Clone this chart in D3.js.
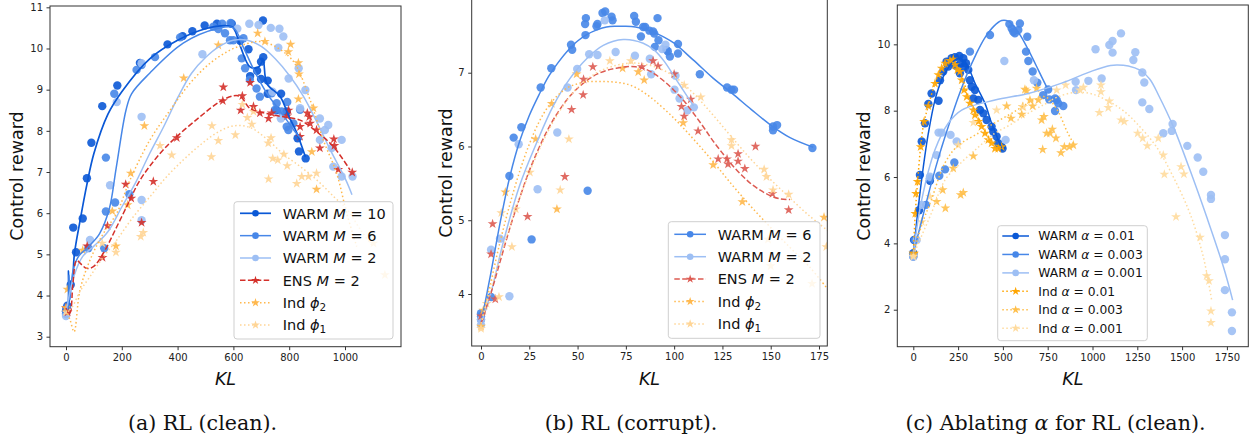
<!DOCTYPE html>
<html><head><meta charset="utf-8">
<script src="https://cdn.jsdelivr.net/npm/d3@7"></script>
<style>
body{margin:0;background:#fff;}
svg{display:block;}
</style></head><body>
<svg id="c" width="1255" height="443" font-family="DejaVu Sans, sans-serif"></svg>
<script>
// ===================== DATA =====================
// ---- Panel (a): RL (clean) ----
const aXTicks = [0,200,400,600,800,1000];
const aYTicks = [3,4,5,6,7,8,9,10,11];
const aWarm10Pts = [[0,3.62],[2,3.7],[5,3.75],[17,4.26],[26,5.65],[36,5.05],[60,5.87],[75,6.85],[91,7.71],[130,8.6],[184,9.1],[265,9.65],[364,10.1],[418,10.3],[453,10.42],[497,10.56],[541,10.6],[594,10.6],[624,10.19],[654,9.98],[660,9.33],[685,9.46],[699,9.68],[707,9.79],[706,10.68],[699,9.26],[723,9.22],[723,8.9],[771,8.9],[754,8.5],[791,8.47],[830,7.82],[835,7.5],[859,7.33]];
const aWarm10Line = [[0,3.65],[6,3.7],[9,4.6],[12,3.85],[17,4.35],[22,4.2],[30,5.0],[50,5.8],[75,6.7],[100,7.45],[150,8.4],[200,8.95],[300,9.75],[400,10.2],[500,10.48],[580,10.55],[600,10.5],[625,10.05],[660,9.55],[690,9.55],[706,9.7],[720,9.15],[768,8.83],[797,8.38],[828,7.94],[858,7.37]];
const aWarm6Pts = [[0,3.55],[3,3.7],[80,5.15],[137,5.15],[143,7.35],[143,6.04],[176,6.26],[173,8.9],[227,6.46],[253,9.48],[271,9.6],[319,9.79],[409,10.27],[528,10.53],[546,10.47],[570,10.37],[588,10.2],[600,10.2],[636,10.25],[630,9.76],[642,9.52],[659,9.24],[683,9.03],[695,8.83],[737,8.91],[749,8.51],[755,8.67],[773,8.47],[791,8.1],[797,8.02],[815,8.18],[839,8.51],[793,8.7],[560,10.6],[590,10.62]];
const aWarm6Line = [[0,3.62],[8,3.75],[11,4.5],[14,3.9],[25,4.6],[45,4.95],[75,5.15],[120,5.5],[155,6.1],[180,7.1],[215,8.5],[235,8.9],[300,9.4],[420,10.13],[540,10.48],[600,10.5],[635,10.04],[677,9.43],[720,8.91],[755,8.59],[791,8.26],[821,7.98],[845,7.8]];
const aWarm2Pts = [[0,3.5],[86,5.35],[158,6.68],[182,8.7],[271,8.34],[271,6.32],[271,5.83],[271,9.64],[489,9.86],[614,10.48],[657,10.6],[690,10.57],[734,10.5],[765,10.48],[779,10.29],[761,10.02],[798,9.27],[834,9.52],[858,8.99],[839,8.55],[910,8.3],[928,8.02],[940,8.14],[910,7.78],[952,7.58],[958,7.13],[988,7.78],[988,6.89],[1027,6.89],[740,8.95],[770,8.3]];
const aWarm2Line = [[0,3.6],[30,4.5],[60,4.95],[100,5.2],[150,5.55],[200,6.15],[250,6.75],[300,7.45],[350,8.1],[400,8.8],[450,9.4],[500,9.78],[550,10.05],[600,10.2],[650,10.2],[700,10.05],[750,9.75],[800,9.35],[850,8.85],[900,8.2],[950,7.5],[1000,6.85],[1025,6.45]];
const aEnsPts = [[0,3.7],[6,3.6],[76,5.2],[131,4.92],[149,5.69],[214,6.7],[234,6.36],[271,5.77],[313,6.77],[397,7.83],[564,9.06],[562,8.73],[632,8.85],[626,8.5],[660,9.17],[672,8.59],[695,8.43],[726,8.3],[737,8.43],[798,8.5],[793,8.36],[839,8.1],[839,7.86],[865,8.43],[872,8.34],[875,8.18],[898,8.02],[910,7.58],[960,7.8],[962,7.64],[976,7.06],[1026,6.99]];
const aEnsLine = [[0,3.7],[10,3.55],[16,3.6],[25,4.3],[38,4.85],[56,4.75],[74,4.66],[98,4.7],[134,5.03],[182,5.67],[229,6.32],[265,6.8],[337,7.45],[397,7.86],[480,8.34],[552,8.71],[600,8.85],[626,8.83],[659,8.55],[719,8.42],[779,8.34],[839,8.26],[898,7.98],[958,7.62],[1018,7.05]];
const aPhi2Pts = [[0,3.7],[5,4.15],[60,5.1],[166,6.05],[179,5.2],[221,6.2],[232,6.97],[281,8.12],[422,9.28],[546,10.08],[687,10.37],[713,10.17],[797,9.92],[805,10.1],[833,9.65],[835,9.38],[833,8.77],[887,8.55],[881,7.49],[898,6.58]];
const aPhi2Line = [[0,3.65],[15,3.4],[29,3.12],[50,4.13],[86,4.86],[134,5.51],[182,6.0],[229,6.8],[301,7.78],[373,8.5],[444,9.15],[516,9.64],[588,9.96],[650,10.12],[696,10.17],[750,10.05],[800,9.8],[827,9.56],[875,8.75],[922,7.78],[970,6.97],[1006,6.0],[1042,5.19]];
const aPhi1Pts = [[0,3.6],[130,5.27],[179,5.05],[268,5.43],[277,5.53],[337,7.64],[379,7.41],[521,7.37],[523,8.12],[546,7.76],[607,7.9],[632,8.64],[650,8.32],[666,8.16],[672,8.47],[725,7.7],[735,7.83],[741,7.33],[759,7.29],[781,7.43],[726,6.83],[793,7.15],[827,6.72],[845,6.89],[869,6.89],[898,6.97],[1102,5.27],[1143,4.5]];
const aPhi1Line = [[0,3.6],[20,3.7],[50,4.1],[86,4.46],[130,4.9],[182,5.35],[240,5.9],[301,6.4],[360,6.88],[420,7.29],[480,7.65],[540,7.95],[600,8.12],[660,8.08],[720,7.8],[780,7.43],[840,7.13],[900,6.8],[960,6.4],[1006,6.1],[1060,5.55],[1100,5.19]];

// ---- Panel (b): RL (corrupt) ----
const bXTicks = [0,25,50,75,100,125,150,175];
const bYTicks = [4,5,6,7];
const bWarm6Pts = [[0,3.74],[0,3.65],[0,3.7],[5.2,3.96],[14.7,5.6],[16.9,6.12],[20.9,6.26],[26.2,4.74],[30.9,6.8],[36.4,7.06],[46.6,7.38],[47.2,7.31],[54.1,7.51],[53.9,7.66],[54.3,7.74],[55.2,5.4],[59.8,7.63],[60.3,7.66],[62.9,7.81],[64.3,7.83],[67.6,7.76],[68.1,7.71],[79.3,7.77],[80.2,7.69],[82.8,7.49],[84,7.62],[85,7.62],[87.2,7.57],[89.1,7.56],[89.7,7.53],[90,7.35],[91.4,7.74],[91.9,7.44],[96,7.31],[96.7,7.29],[97.8,7.22],[102,7.39],[102,7.26],[113.3,6.98],[127.4,6.8],[129.7,6.77],[131,6.77],[151.2,6.27],[153.3,6.29],[151.2,6.22],[171.6,5.98]];
const bWarm6Line = [[0,3.6],[5,4.27],[10,4.98],[15,5.6],[20,6.07],[25,6.42],[30,6.7],[35,6.95],[40,7.14],[45,7.3],[50,7.43],[55,7.52],[60,7.58],[65,7.62],[70,7.63],[75,7.63],[80,7.62],[85,7.59],[90,7.54],[95,7.48],[100,7.4],[110,7.17],[120,6.93],[130,6.72],[140,6.5],[150,6.29],[160,6.12],[172,5.99]];
const bWarm2Pts = [[0,3.65],[0,3.58],[5.2,4.6],[9.8,4.75],[14.7,3.97],[19.5,6.03],[29.3,5.42],[39.5,6.19],[44.8,6.8],[49.8,7.05],[56,7.25],[60.3,7.24],[64.1,7.71],[69.7,7.28],[79.7,7.23],[87.4,7.19],[88.1,6.98],[93.8,7.32],[95.5,7.38],[100.7,6.96],[100.2,6.77],[102.8,6.65],[106.9,6.49],[110.2,6.53]];
const bWarm2Line = [[0,3.6],[5,4.0],[11.5,4.7],[20,5.47],[28.8,6.05],[37.4,6.55],[46,6.92],[54.7,7.19],[63.3,7.37],[73.6,7.45],[84,7.4],[90,7.3],[95,7.15],[100,6.95],[105,6.75],[110,6.55]];
const bEnsPts = [[0,3.7],[5.2,4.54],[6,4.95],[7.4,3.93],[24.1,5.05],[43.4,5.59],[46.9,6.5],[52.9,6.7],[53.1,6.91],[57.9,7.08],[83.3,7.08],[89.1,7.16],[91.7,7.09],[100,6.98],[103.8,6.54],[105.2,6.41],[108.6,6.64],[112.4,6.21],[122.8,5.83],[127.4,5.83],[127.9,5.76],[133.1,5.9],[133.1,5.8],[136.6,5.7],[142.1,6.0],[150.9,5.36],[159.3,5.14]];
const bEnsLine = [[0,3.6],[5,4.0],[10,4.45],[15,4.9],[20,5.3],[25,5.67],[30,5.98],[35,6.25],[40,6.47],[45,6.65],[50,6.79],[55,6.9],[60,6.98],[65,7.03],[70,7.06],[75,7.08],[80,7.08],[85,7.05],[90,6.98],[95,6.88],[100,6.76],[105,6.62],[110,6.45],[115,6.27],[120,6.08],[125,5.91],[130,5.75],[135,5.61],[140,5.49],[145,5.4],[150,5.33],[155,5.29],[160,5.28]];
const bPhi2Pts = [[0,3.56],[1.2,3.78],[12.6,5.38],[28.3,6.1],[36.6,6.58],[39.3,5.15],[49.5,6.98],[73.3,7.06],[81.4,7.01],[84.5,6.9],[104.7,6.32],[120.2,5.75],[135.3,5.25],[177.6,5.04]];
const bPhi2Line = [[0,3.6],[5,4.15],[10,4.72],[15,5.22],[20,5.66],[25,6.03],[30,6.33],[35,6.55],[40,6.7],[45,6.8],[50,6.85],[55,6.88],[60,6.88],[65,6.88],[70,6.87],[75,6.85],[80,6.8],[85,6.72],[90,6.62],[100,6.38],[110,6.1],[120,5.8],[130,5.48],[140,5.18],[150,4.9],[160,4.63],[170,4.37],[180,4.05]];
const bPhi1Pts = [[0,3.53],[2.9,3.87],[9.3,3.96],[10.5,5.1],[18,5.15],[16,4.64],[25.3,5.65],[41,5.41],[45.5,6.1],[66.7,7.16],[77.6,7.16],[105.2,6.83],[113.8,6.67],[129.7,6.09],[129.7,6.01],[146.6,5.69],[147.8,5.59],[151.2,5.41],[159.3,5.35],[178.8,4.64],[171.4,4.14],[150,4.38],[148.6,4.74]];
const bPhi1Line = [[0,3.6],[10,4.5],[20,5.3],[30,5.95],[40,6.45],[50,6.8],[60,7.0],[70,7.1],[80,7.13],[90,7.08],[100,6.95],[110,6.72],[120,6.43],[130,6.12],[140,5.82],[150,5.55],[160,5.3],[170,5.06],[180,4.85]];

// ---- Panel (c): Ablating alpha ----
const cXTicks = [0,250,500,750,1000,1250,1500,1750];
const cYTicks = [2,4,6,8,10];
const cW01Pts = [[0,3.6],[0,3.7],[4,4.1],[32,5.0],[37,6.06],[47,7.07],[65,7.62],[84,8.2],[93,5.89],[102,8.52],[141,8.3],[149,8.92],[167,9.18],[186,9.48],[195,9.33],[214,9.58],[232,9.61],[238,9.35],[257,9.65],[260,9.13],[264,9.43],[279,9.58],[283,9.33],[294,9.43],[307,9.23],[316,8.92],[326,8.72],[335,8.37],[344,8.62],[363,8.32],[372,8.02],[391,7.92],[409,7.72],[437,7.52],[446,7.37],[465,7.22],[474,7.02],[493,6.91],[498,6.86]];
const cW01Line = [[0,3.7],[28,5.1],[56,6.31],[84,7.32],[121,8.32],[158,8.92],[214,9.43],[251,9.58],[288,9.48],[320,9.15],[344,8.83],[400,8.22],[437,7.62],[474,7.12],[493,6.87]];
const cW003Pts = [[0,3.65],[9,4.1],[71,5.16],[93,5.96],[145,6.04],[177,6.23],[229,6.44],[316,9.78],[428,10.28],[536,10.61],[549,10.48],[558,10.38],[567,10.33],[586,10.43],[595,10.63],[636,10.23],[629,9.78],[642,9.5],[666,9.18],[692,8.84],[725,8.47],[753,8.64],[759,8.34],[791,8.37],[791,7.99],[809,8.22],[837,8.14],[800,8.32]];
const cW003Line = [[0,3.7],[50,4.75],[100,5.8],[150,6.75],[200,7.6],[250,8.4],[300,9.1],[350,9.7],[400,10.2],[450,10.55],[493,10.72],[530,10.7],[560,10.55],[600,10.25],[650,9.75],[700,9.2],[750,8.65]];
const cW001Pts = [[0,3.6],[19,4.1],[47,5.16],[93,6.01],[130,6.66],[141,7.34],[158,7.34],[208,7.27],[242,7.07],[515,7.12],[508,9.5],[673,8.92],[908,8.62],[906,8.87],[977,8.9],[1051,8.97],[1017,9.85],[1094,9.98],[1112,10.1],[1112,9.75],[1159,10.33],[1228,9.53],[1239,9.76],[1278,9.15],[1289,8.85],[1278,8.25],[1317,8.05],[1395,7.32],[1442,7.39],[1447,7.6],[1529,6.94],[1587,6.59],[1618,6.16],[1661,5.46],[1661,5.34],[1739,4.25],[1739,3.52],[1739,2.59],[1778,1.92],[1778,1.36]];
const cW001Line = [[0,3.7],[47,5.31],[121,6.82],[195,7.62],[270,8.02],[456,8.32],[642,8.52],[828,8.83],[1000,9.2],[1100,9.36],[1135,9.38],[1200,9.35],[1265,9.22],[1320,8.95],[1370,8.45],[1451,7.52],[1544,6.21],[1637,4.8],[1730,3.3],[1782,2.29]];
const cI01Pts = [[0,3.7],[4,3.7],[11,4.9],[15,5.5],[24,5.86],[41,6.91],[60,7.67],[84,8.14],[121,8.82],[140,9.08],[158,9.28],[177,9.43],[205,9.51],[223,9.55],[232,9.38],[246,9.23],[260,9.18],[270,8.92],[283,8.62],[298,8.42],[316,8.22],[335,8.02],[344,7.87],[363,7.67],[381,7.52],[400,7.32],[419,7.12],[437,7.02],[456,6.86],[474,6.86],[493,6.91]];
const cI01Line = [[0,3.7],[11,4.9],[24,5.86],[41,6.91],[60,7.67],[84,8.14],[121,8.82],[158,9.25],[200,9.42],[225,9.45],[250,9.3],[283,8.85],[316,8.3],[350,7.95],[400,7.4],[450,7.0],[490,6.9]];
const cI003Pts = [[0,3.65],[130,5.26],[164,5.61],[179,5.06],[223,6.26],[264,5.46],[279,5.53],[335,6.63],[521,8.14],[545,7.77],[605,7.89],[623,8.64],[610,8.12],[651,8.32],[666,8.14],[698,8.32],[716,7.72],[729,7.82],[744,7.32],[763,7.32],[776,7.44],[796,7.17],[722,6.83],[824,6.73],[843,6.91],[871,6.91],[893,6.96],[688,8.67],[632,8.6]];
const cI003Line = [[0,3.7],[50,4.6],[100,5.3],[176,6.42],[250,6.95],[363,7.32],[450,7.62],[549,7.92],[650,8.25],[735,8.42],[800,8.05],[860,7.35],[900,6.95]];
const cI001Pts = [[0,3.6],[47,4.65],[93,5.41],[251,6.96],[335,7.64],[465,8.02],[614,8.12],[800,8.62],[850,8.77],[930,8.62],[949,8.7],[1047,8.77],[1047,8.57],[1038,7.94],[1094,8.29],[1088,8.09],[1159,7.72],[1177,7.67],[1252,7.32],[1280,7.17],[1306,6.94],[1367,7.17],[1395,6.66],[1401,6.08],[1494,6.31],[1510,6.09],[1466,4.8],[1600,4.18],[1637,3.02],[1650,2.87],[1661,1.96],[1661,1.61]];
const cI001Line = [[0,3.65],[100,4.9],[176,5.9],[270,6.45],[363,6.9],[450,7.3],[549,7.6],[650,7.95],[735,8.2],[800,8.4],[900,8.55],[1000,8.5],[1100,8.25],[1172,8.0],[1250,7.6],[1358,6.9],[1451,6.0],[1544,4.9],[1618,3.6],[1665,2.29]];

// Legend labels: arrays of parts; {t, i:italic, sub:subscript}
const aLabels = [
  ["WARM ",{t:"M",i:1}," = 10"],["WARM ",{t:"M",i:1}," = 6"],["WARM ",{t:"M",i:1}," = 2"],
  ["ENS ",{t:"M",i:1}," = 2"],["Ind ",{t:"ϕ",i:1},{t:"2",sub:1}],["Ind ",{t:"ϕ",i:1},{t:"1",sub:1}]];
const bLabels = [
  ["WARM ",{t:"M",i:1}," = 6"],["WARM ",{t:"M",i:1}," = 2"],
  ["ENS ",{t:"M",i:1}," = 2"],["Ind ",{t:"ϕ",i:1},{t:"2",sub:1}],["Ind ",{t:"ϕ",i:1},{t:"1",sub:1}]];
const cLabels = [
  ["WARM ",{t:"α",i:1}," = 0.01"],["WARM ",{t:"α",i:1}," = 0.003"],["WARM ",{t:"α",i:1}," = 0.001"],
  ["Ind ",{t:"α",i:1}," = 0.01"],["Ind ",{t:"α",i:1}," = 0.003"],["Ind ",{t:"α",i:1}," = 0.001"]];
const captions = [["(a) RL (clean)."],["(b) RL (corrupt)."],["(c) Ablating ",{t:"α",i:1}," for RL (clean)."]];

// ===================== STYLES =====================
const C = {dark:"#0a58d6", mid:"#4787e8", light:"#9dbff4", red:"#d4302a", redB:"#dd5b52",
           or:"#ffb84d", orL:"#ffd596", orC1:"#ffa500", orC2:"#ffbf4a", orC3:"#ffdb9e"};
const S = {solid:null, dash:"5.5,2.4", dot:"1.5,2.5"};

const svg = d3.select("#c");

function addParts(sel, parts){
  parts.forEach(p=>{
    if(typeof p==="string"){ sel.append("tspan").text(p); }
    else {
      const ts = sel.append("tspan").text(p.t);
      if(p.i) ts.attr("font-style","italic");
      if(p.sub) ts.attr("font-size","72%").attr("dy","0.3em");
    }
  });
}

function drawPanel(P){
  const g = svg.append("g");
  const x = d3.scaleLinear().domain(P.xd).range([P.left,P.right]);
  const y = d3.scaleLinear().domain(P.yd).range([P.bottom,P.top]);
  const cid = "clip"+P.id;
  svg.append("defs").append("clipPath").attr("id",cid).append("rect")
    .attr("x",P.left).attr("y",P.top).attr("width",P.right-P.left).attr("height",P.bottom-P.top);
  const plot = g.append("g").attr("clip-path",`url(#${cid})`);
  const line = d3.line().x(d=>x(d[0])).y(d=>y(d[1])).curve(d3.curveCatmullRom.alpha(0.5));
  const star = d3.symbol().type(d3.symbolStar).size(30);
  P.series.forEach(s=>{
    if(s.m==="o"){
      plot.append("g").selectAll("circle").data(s.pts).join("circle")
        .attr("cx",d=>x(d[0])).attr("cy",d=>y(d[1])).attr("r",4.2)
        .attr("fill",s.c).attr("fill-opacity",0.9);
    } else {
      plot.append("g").selectAll("path").data(s.pts).join("path")
        .attr("d",star).attr("transform",d=>`translate(${x(d[0])},${y(d[1])})`)
        .attr("fill",s.c).attr("fill-opacity",0.9);
    }
  });
  P.series.forEach(s=>{
    plot.append("path").datum(s.line).attr("d",line).attr("fill","none")
      .attr("stroke",s.c).attr("stroke-width",s.lw||1.5)
      .attr("stroke-dasharray",S[s.ls]);
  });
  g.append("rect").attr("x",P.left).attr("y",P.top).attr("width",P.right-P.left).attr("height",P.bottom-P.top)
    .attr("fill","none").attr("stroke","#333").attr("stroke-width",1);
  const ax = g.append("g").attr("transform",`translate(0,${P.bottom})`)
    .call(d3.axisBottom(x).tickValues(P.xt).tickSize(3.5).tickPadding(3.5).tickFormat(d3.format("d")));
  const ay = g.append("g").attr("transform",`translate(${P.left},0)`)
    .call(d3.axisLeft(y).tickValues(P.yt).tickSize(3.5).tickPadding(3.5).tickFormat(d3.format("d")));
  [ax,ay].forEach(a=>{
    a.attr("font-family",null).attr("font-size",null);
    a.select(".domain").remove();
    a.selectAll("line").attr("stroke","#333");
    a.selectAll("text").style("font-size","10px").style("font-family","DejaVu Sans").attr("fill","#222");
  });
  g.append("text").attr("x",(P.left+P.right)/2).attr("y",385).attr("text-anchor","middle")
    .style("font-size","17.5px").style("font-style","italic").attr("fill","#111").text("KL");
  g.append("text").attr("transform",`translate(${P.ylx},${P.ylc}) rotate(-90)`).attr("text-anchor","middle")
    .style("font-size","17.5px").attr("fill","#111").text("Control reward");
  const L = P.leg;
  g.append("rect").attr("x",L.x0).attr("y",L.y0).attr("width",L.x1-L.x0).attr("height",L.y1-L.y0)
    .attr("rx",3).attr("fill","#fff").attr("fill-opacity",0.8).attr("stroke","#cfcfcf").attr("stroke-width",1);
  P.series.forEach((s,i)=>{
    const ry = L.r0 + i*L.dy;
    g.append("line").attr("x1",L.h0).attr("x2",L.h1).attr("y1",ry).attr("y2",ry)
      .attr("stroke",s.c).attr("stroke-width",s.lw||1.5).attr("stroke-dasharray",S[s.ls]);
    const cx=(L.h0+L.h1)/2;
    if(s.m==="o") g.append("circle").attr("cx",cx).attr("cy",ry).attr("r",3.3).attr("fill",s.c);
    else g.append("path").attr("d",d3.symbol().type(d3.symbolStar).size(24)()).attr("transform",`translate(${cx},${ry})`).attr("fill",s.c);
    const t = g.append("text").attr("x",L.tx).attr("y",ry).attr("dy","0.36em").style("font-size",L.fs).attr("fill","#111");
    addParts(t,P.labels[i]);
  });
  const cap = g.append("text").attr("x",P.capx).attr("y",429.5).attr("text-anchor","middle")
    .style("font-family","'DejaVu Serif', serif").style("font-size","20.6px").attr("fill","#111");
  addParts(cap,P.cap);
}

drawPanel({id:"a",left:50,right:401,top:6,bottom:346.7,xd:[-57.3,1200.7],yd:[2.757,11.032],
  xt:aXTicks,yt:aYTicks,ylx:23,ylc:176,capx:202.5,cap:captions[0],labels:aLabels,
  leg:{x0:234,x1:393,y0:201.7,y1:339,h0:240,h1:271,tx:282.7,r0:213.3,dy:22.35,fs:"14.5px"},
  series:[
    {pts:aPhi1Pts,line:aPhi1Line,c:C.orL,m:"*",ls:"dot"},
    {pts:aPhi2Pts,line:aPhi2Line,c:C.or,m:"*",ls:"dot"},
    {pts:aEnsPts,line:aEnsLine,c:C.red,m:"*",ls:"dash"},
    {pts:aWarm2Pts,line:aWarm2Line,c:C.light,m:"o",ls:"solid"},
    {pts:aWarm6Pts,line:aWarm6Line,c:C.mid,m:"o",ls:"solid"},
    {pts:aWarm10Pts,line:aWarm10Line,c:C.dark,m:"o",ls:"solid",lw:1.7}
  ].reverse()});

drawPanel({id:"b",left:471.7,right:827.3,top:-1.5,bottom:346,xd:[-4.82,179.3],yd:[3.295,8.006],
  xt:bXTicks,yt:bYTicks,ylx:451.5,ylc:173,capx:631,cap:captions[1],labels:bLabels,
  leg:{x0:668.3,x1:820,y0:221.7,y1:338.3,h0:674.3,h1:706,tx:717.7,r0:234.3,dy:22.4,fs:"14.5px"},
  series:[
    {pts:bWarm6Pts,line:bWarm6Line,c:C.mid,m:"o",ls:"solid"},
    {pts:bWarm2Pts,line:bWarm2Line,c:C.light,m:"o",ls:"solid"},
    {pts:bEnsPts,line:bEnsLine,c:C.redB,m:"*",ls:"dash"},
    {pts:bPhi2Pts,line:bPhi2Line,c:C.or,m:"*",ls:"dot"},
    {pts:bPhi1Pts,line:bPhi1Line,c:C.orL,m:"*",ls:"dot"}
  ]});

drawPanel({id:"c",left:897.3,right:1248.3,top:5,bottom:346.7,xd:[-89.3,1869.4],yd:[0.885,11.186],
  xt:cXTicks,yt:cYTicks,ylx:870,ylc:176,capx:1055.5,cap:captions[2],labels:cLabels,
  leg:{x0:997.7,x1:1147.3,y0:225.7,y1:340.7,h0:1002.3,h1:1029,tx:1038.3,r0:236,dy:18.45,fs:"12.3px"},
  series:[
    {pts:cW01Pts,line:cW01Line,c:C.dark,m:"o",ls:"solid"},
    {pts:cW003Pts,line:cW003Line,c:C.mid,m:"o",ls:"solid"},
    {pts:cW001Pts,line:cW001Line,c:C.light,m:"o",ls:"solid"},
    {pts:cI01Pts,line:cI01Line,c:C.orC1,m:"*",ls:"dot"},
    {pts:cI003Pts,line:cI003Line,c:C.orC2,m:"*",ls:"dot"},
    {pts:cI001Pts,line:cI001Line,c:C.orC3,m:"*",ls:"dot"}
  ]});
</script>
</body></html>
